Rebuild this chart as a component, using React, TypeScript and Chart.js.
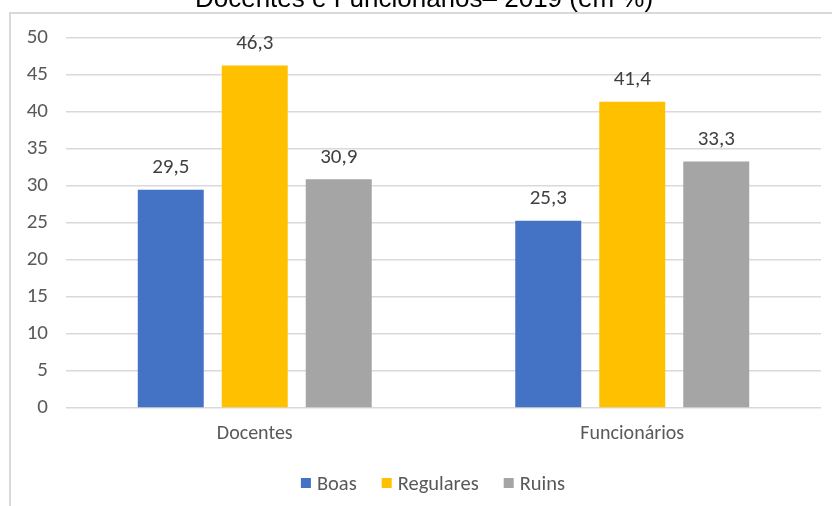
import React, { useEffect, useRef } from "react";
import { Chart, registerables } from "chart.js";

Chart.register(...registerables);

const TITLE = "Docentes e Funcionários– 2019 (em %)";
const CATEGORIES = ["Docentes", "Funcionários"];
const SERIES_NAMES = ["Boas", "Regulares", "Ruins"];
const BOAS = [29.5, 25.3];
const REGULARES = [46.3, 41.4];
const RUINS = [30.9, 33.3];
const COLORS = ["#4472C4", "#FFC000", "#A5A5A5"];
const Y_MIN = 0;
const Y_MAX = 50;
const Y_STEP = 5;

const FONT = "Carlito, Lato, 'Open Sans', sans-serif";
const NUM_SIZE = 21;
const CAT_SIZE = 20;
const LEGEND_SIZE = 20.5;
const TEXT_GREY = "#595959";

const decorPlugin = {
  id: "decor",
  beforeDraw(chart: any) {
    const ctx = chart.ctx;
    ctx.save();
    ctx.fillStyle = "#ffffff";
    ctx.fillRect(0, 0, chart.width, chart.height);
    ctx.strokeStyle = "#d9d9d9";
    ctx.lineWidth = 2;
    ctx.beginPath();
    ctx.moveTo(10, chart.height);
    ctx.lineTo(10, 13);
    ctx.lineTo(chart.width, 13);
    ctx.stroke();
    ctx.fillStyle = "#000000";
    ctx.font = "26px 'Liberation Sans', Arial, sans-serif";
    ctx.textAlign = "center";
    ctx.textBaseline = "alphabetic";
    ctx.fillText(TITLE, 424, 7);
    ctx.restore();
  },
  afterDatasetsDraw(chart: any) {
    const ctx = chart.ctx;
    ctx.save();
    ctx.font = `${NUM_SIZE}px ${FONT}`;
    ctx.fillStyle = "#404040";
    ctx.textAlign = "center";
    ctx.textBaseline = "alphabetic";
    chart.data.datasets.forEach((ds: any, i: number) => {
      const meta = chart.getDatasetMeta(i);
      meta.data.forEach((bar: any, j: number) => {
        const v = ds.data[j];
        ctx.fillText(String(v).replace(".", ","), bar.x, bar.y - 16.5);
      });
    });
    // legend
    ctx.font = `${LEGEND_SIZE}px ${FONT}`;
    ctx.textAlign = "left";
    ctx.textBaseline = "alphabetic";
    const box = 10;
    const gapBoxText = 6;
    const gapItems = 25;
    const items = chart.data.datasets.map((ds: any) => ({
      label: ds.label,
      color: ds.backgroundColor,
      w: box + gapBoxText + ctx.measureText(ds.label).width,
    }));
    const total =
      items.reduce((s: number, it: any) => s + it.w, 0) + gapItems * (items.length - 1);
    let x = 433 - total / 2;
    const cy = 483;
    items.forEach((it: any) => {
      ctx.fillStyle = it.color;
      ctx.fillRect(x, cy - box / 2, box, box);
      ctx.fillStyle = TEXT_GREY;
      ctx.fillText(it.label, x + box + gapBoxText, cy + 6.5);
      x += it.w + gapItems;
    });
    ctx.restore();
  },
};

export default function App() {
  const ref = useRef<HTMLCanvasElement | null>(null);
  useEffect(() => {
    if (!ref.current) return;
    const seriesData = [BOAS, REGULARES, RUINS];
    const chart = new Chart(ref.current, {
      type: "bar",
      data: {
        labels: CATEGORIES,
        datasets: SERIES_NAMES.map((name, i) => ({
          label: name,
          data: seriesData[i],
          backgroundColor: COLORS[i],
          borderWidth: 0,
          categoryPercentage: 0.6675,
          barPercentage: 0.7857,
        })),
      },
      options: {
        responsive: false,
        animation: false,
        layout: { padding: { left: 10, right: 11, top: 38, bottom: 0 } },
        plugins: {
          legend: { display: false },
          title: { display: false },
          tooltip: { enabled: false },
        },
        scales: {
          x: {
            grid: { display: false, drawTicks: false },
            border: { display: false },
            ticks: {
              color: TEXT_GREY,
              font: { family: FONT, size: CAT_SIZE },
              padding: 14,
            },
            afterFit(scale: any) {
              scale.height = 98;
            },
          },
          y: {
            min: Y_MIN,
            max: Y_MAX,
            ticks: {
              stepSize: Y_STEP,
              color: TEXT_GREY,
              font: { family: FONT, size: NUM_SIZE },
              padding: 18,
            },
            grid: { color: "#d9d9d9", lineWidth: 1.5, drawTicks: false },
            border: { display: false },
            afterFit(scale: any) {
              scale.width = 56;
            },
          },
        },
      },
      plugins: [decorPlugin],
    });
    return () => chart.destroy();
  }, []);
  return (
    <div style={{ position: "absolute", left: 0, top: 0, width: 832, height: 506 }}>
      <canvas ref={ref} width={832} height={506} style={{ width: 832, height: 506 }} />
    </div>
  );
}
